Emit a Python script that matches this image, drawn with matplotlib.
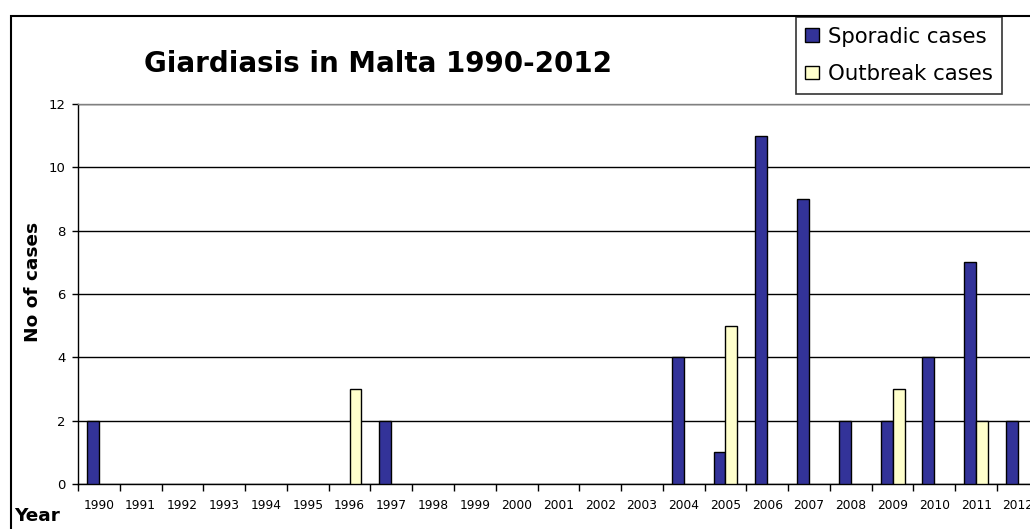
import matplotlib
matplotlib.use("Agg")
import matplotlib.pyplot as plt
import numpy as np
from matplotlib.patches import Rectangle, Patch

# data
years = [str(y) for y in range(1990, 2013)]
sporadic = [2, 0, 0, 0, 0, 0, 0, 2, 0, 0, 0, 0, 0, 0, 4, 1, 11, 9, 2, 2, 4, 7, 2]
outbreak = [0, 0, 0, 0, 0, 0, 3, 0, 0, 0, 0, 0, 0, 0, 0, 5, 0, 0, 0, 3, 0, 2, 0]
yticks = [0, 2, 4, 6, 8, 10, 12]

W, H = 1030, 529
fig = plt.figure(figsize=(W / 100, H / 100), dpi=100)

# outer chart frame (runs off the right/bottom edges in the original)
fig.patches.append(Rectangle((11 / W, -0.2), 1.2, 1 - 16 / H + 0.2,
                             transform=fig.transFigure, fill=False,
                             edgecolor="black", linewidth=1.5, zorder=0))

# plot area, right part falls outside the image like in the reference
ax = fig.add_axes([78 / W, 1 - 484 / H, 960.8 / W, 380 / H])
ax.set_facecolor("white")

x = np.arange(len(years))
spo = np.array(sporadic)
out = np.array(outbreak)
bw = 1 / 3.5
# zero years get no bar at all (otherwise a flat outline shows on the axis)
ax.bar(x[spo > 0] - bw / 2, spo[spo > 0], width=bw, color="#333399",
       edgecolor="black", linewidth=1, zorder=3)
ax.bar(x[out > 0] + bw / 2, out[out > 0], width=bw, color="#FFFFCC",
       edgecolor="black", linewidth=1, zorder=3)

ax.set_xlim(-0.5, len(years) - 0.5)
ax.set_ylim(0, 12)
ax.set_yticks(yticks)
ax.tick_params(axis="y", direction="out", length=4, width=1, pad=5,
               labelsize=9.5)
ax.yaxis.grid(True, color="black", linewidth=1, zorder=1)

ax.set_xticks(np.arange(len(years) + 1) - 0.5)
ax.set_xticklabels([])
ax.set_xticks(x, minor=True)
ax.set_xticklabels(years, minor=True)
ax.tick_params(axis="x", which="major", direction="out", length=5, width=1)
ax.tick_params(axis="x", which="minor", length=0, pad=11, labelsize=8.8)

for s in ["left", "bottom"]:
    ax.spines[s].set_color("black")
    ax.spines[s].set_linewidth(1)
for s in ["top", "right"]:
    ax.spines[s].set_color("#808080")
    ax.spines[s].set_linewidth(1)

# texts
fig.text(378 / W, 1 - 72 / H, "Giardiasis in Malta 1990-2012", fontsize=20,
         fontweight="bold", ha="center", va="baseline")
fig.text(33 / W, 1 - 282 / H, "No of cases", fontsize=13.3, fontweight="bold",
         rotation=90, ha="center", va="center")
fig.text(14 / W, 1 - 521 / H, "Year", fontsize=13.3, fontweight="bold",
         ha="left", va="baseline")

handles = [Patch(facecolor="#333399", edgecolor="black", linewidth=1),
           Patch(facecolor="#FFFFCC", edgecolor="black", linewidth=1)]
leg = fig.legend(handles, ["Sporadic cases", "Outbreak cases"],
                 loc="upper right", bbox_to_anchor=(1002 / W, 1 - 17 / H),
                 fontsize=15.3, frameon=True, fancybox=False, shadow=False,
                 handlelength=0.66, handleheight=0.59, handletextpad=0.38,
                 labelspacing=0.82, borderpad=0.45, borderaxespad=0)
leg.get_frame().set_edgecolor("black")
leg.get_frame().set_linewidth(1.2)

fig.savefig("out.png", dpi=100)
